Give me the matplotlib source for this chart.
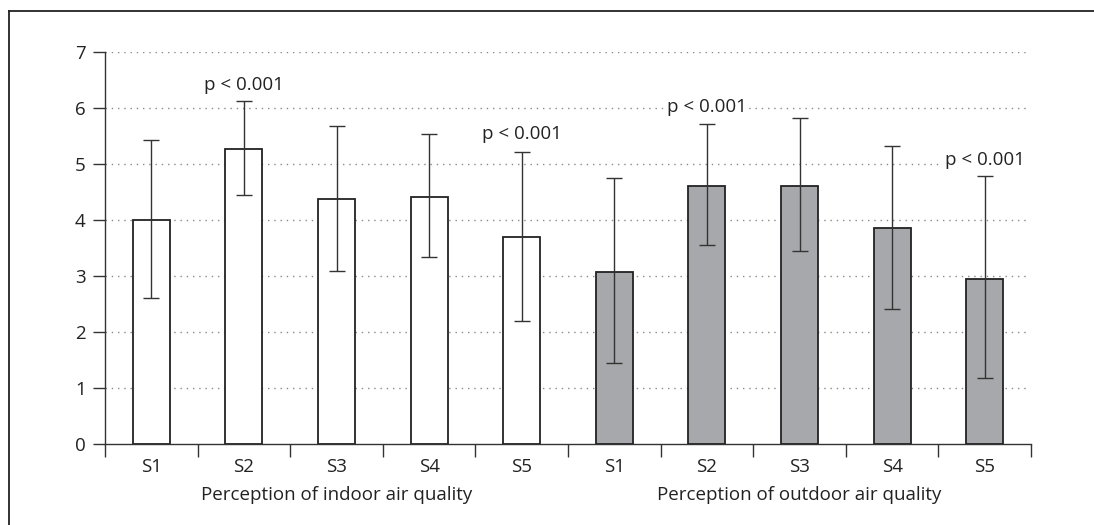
import matplotlib
matplotlib.use("Agg")
import matplotlib.pyplot as plt
from matplotlib.lines import Line2D
import numpy as np

plt.rcParams['font.family'] = ['Open Sans', 'DejaVu Sans']

categories = ["S1", "S2", "S3", "S4", "S5"]
groups = ["Perception of indoor air quality", "Perception of outdoor air quality"]
indoor_mean = [4.00, 5.27, 4.37, 4.41, 3.70]
indoor_low = [2.60, 4.45, 3.09, 3.34, 2.20]
indoor_high = [5.42, 6.12, 5.68, 5.54, 5.22]
outdoor_mean = [3.08, 4.60, 4.60, 3.85, 2.95]
outdoor_low = [1.45, 3.56, 3.44, 2.41, 1.17]
outdoor_high = [4.75, 5.71, 5.82, 5.33, 4.79]
# p-value annotations: (group index, category index, y position)
pvals = [(0, 1, 6.41, "p < 0.001"), (0, 4, 5.53, "p < 0.001"),
         (1, 1, 6.02, "p < 0.001"), (1, 4, 5.07, "p < 0.001")]

FS = 13.5
TXT = '#222222'

fig = plt.figure(figsize=(10.94, 5.25), dpi=100)
ax = fig.add_axes([105/1094, 1-444/525, (1031-105)/1094, (444-52)/525])

n = len(categories)
x_in = np.arange(n) + 0.5
x_out = np.arange(n) + n + 0.5
bw = 0.4

def draw(xs, mean, low, high, color):
    mean = np.array(mean); low = np.array(low); high = np.array(high)
    ax.bar(xs, mean, width=bw, color=color, edgecolor='#222222', linewidth=1.3, zorder=3)
    ax.errorbar(xs, mean, yerr=[mean-low, high-mean], fmt='none', ecolor='#333333',
                elinewidth=1.0, capsize=5.5, capthick=1.0, zorder=4)

draw(x_in, indoor_mean, indoor_low, indoor_high, 'white')
draw(x_out, outdoor_mean, outdoor_low, outdoor_high, '#a7a8ab')

for g, c, y, t in pvals:
    xx = (x_in if g == 0 else x_out)[c]
    ax.text(xx, y, t, ha='center', va='center', fontsize=FS, color=TXT,
            bbox=dict(facecolor='white', edgecolor='none', pad=1.5), zorder=5)

ax.set_xlim(0, 2*n)
ax.set_ylim(0, 7)
for yv in range(1, 8):
    ax.plot([0, 2*n*0.996], [yv, yv], linestyle=(0, (1, 3.5)), color='#8a8a8a', linewidth=1.0, zorder=1)

ax.set_yticks(range(0, 8))
ax.set_xticks(np.arange(0, 2*n+1))
ax.set_xticklabels([])
ax.tick_params(axis='both', direction='out', length=9, width=1.0, color='#333333',
               labelsize=FS, labelcolor=TXT)
ax.tick_params(axis='y', pad=5)
for xs in (x_in, x_out):
    for xv, lab in zip(xs, categories):
        ax.text(xv, -0.41, lab, ha='center', va='center', fontsize=FS, color=TXT)
ax.text(n/2, -0.91, groups[0], ha='center', va='center', fontsize=FS, color=TXT)
ax.text(n + n/2, -0.91, groups[1], ha='center', va='center', fontsize=FS, color=TXT)

for s in ['top', 'right']:
    ax.spines[s].set_visible(False)
for s in ['left', 'bottom']:
    ax.spines[s].set_color('#333333')
    ax.spines[s].set_linewidth(1.0)

# outer frame (left and top only)
fig.add_artist(Line2D([9/1094, 9/1094], [0, 1-11/525], color='#222222', linewidth=1.3, transform=fig.transFigure))
fig.add_artist(Line2D([9/1094, 1], [1-11/525, 1-11/525], color='#222222', linewidth=1.3, transform=fig.transFigure))

fig.savefig("out.png", dpi=100)
